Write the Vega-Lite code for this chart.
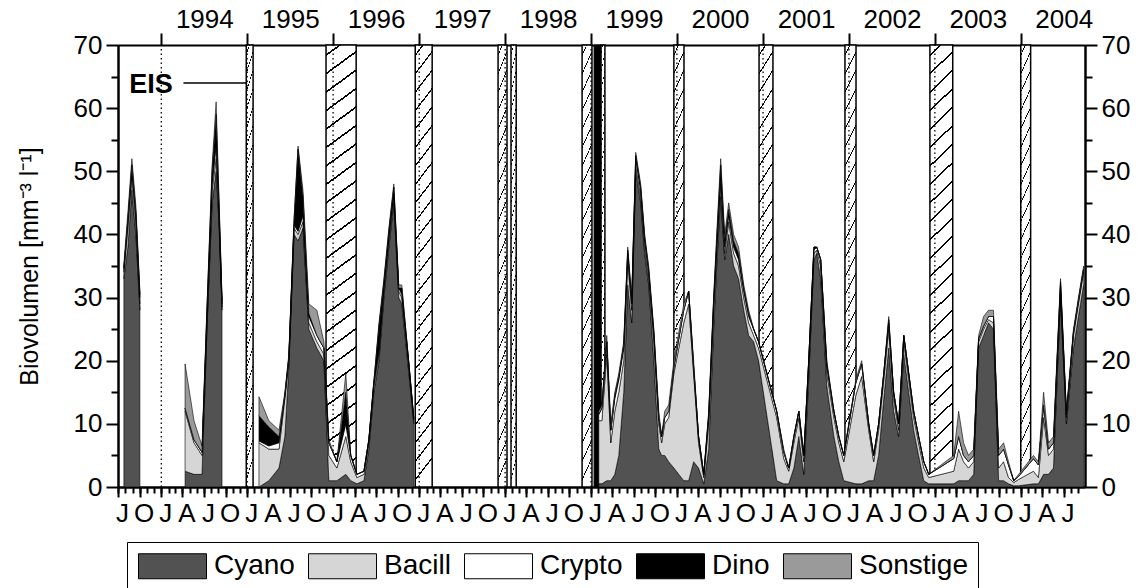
{
  "$schema": "https://vega.github.io/schema/vega-lite/v6.json",
  "width": 967,
  "height": 442,
  "autosize": {"type": "none"},
  "padding": {"left": 118, "top": 45, "right": 57, "bottom": 101},
  "background": "white",
  "config": {
    "view": {"stroke": null},
    "font": "Liberation Sans",
    "axis": {
      "labelFont": "Liberation Sans", "titleFont": "Liberation Sans",
      "labelColor": "black", "titleColor": "black",
      "tickColor": "black", "domainColor": "black",
      "tickWidth": 2, "domainWidth": 2, "grid": false,
      "labelFontSize": 26, "labelOverlap": false, "labelBound": false, "labelFlush": false
    }
  },
  "datasets": {
    "taxa": [
      {"taxon": "Cyano", "ord": 1}, {"taxon": "Bacill", "ord": 2}, {"taxon": "Crypto", "ord": 3},
      {"taxon": "Dino", "ord": 4}, {"taxon": "Sonstige", "ord": 5}
    ],
    "ice": [
      {"s": "1994-12-28", "e": "1995-01-26"},
      {"s": "1995-12-02", "e": "1996-04-08"},
      {"s": "1996-12-15", "e": "1997-02-25"},
      {"s": "1997-12-02", "e": "1998-01-09"},
      {"s": "1998-01-26", "e": "1998-02-17"},
      {"s": "1998-11-24", "e": "1999-01-05"},
      {"s": "1999-02-12", "e": "1999-03-01"},
      {"s": "1999-12-19", "e": "2000-01-31"},
      {"s": "2000-12-15", "e": "2001-02-12"},
      {"s": "2001-12-15", "e": "2002-01-31"},
      {"s": "2002-12-11", "e": "2003-03-18"},
      {"s": "2004-01-01", "e": "2004-02-12"}
    ],
    "iceblack": [
      {"s": "1999-01-14", "e": "1999-02-12"}
    ],
    "years": [
      {"d": "1994-01-01"}, {"d": "1995-01-01"}, {"d": "1996-01-01"}, {"d": "1997-01-01"},
      {"d": "1998-01-01"}, {"d": "1999-01-01"}, {"d": "2000-01-01"}, {"d": "2001-01-01"},
      {"d": "2002-01-01"}, {"d": "2003-01-01"}, {"d": "2004-01-01"}
    ],
    "samples": [
      {"d": "1993-07-26", "seg": 1, "Cyano": 33, "Bacill": 1, "Crypto": 0.5, "Dino": 0.3, "Sonstige": 0.5},
      {"d": "1993-08-12", "seg": 1, "Cyano": 38, "Bacill": 3, "Crypto": 1, "Dino": 0.5, "Sonstige": 1},
      {"d": "1993-08-29", "seg": 1, "Cyano": 47, "Bacill": 2, "Crypto": 1, "Dino": 1, "Sonstige": 1},
      {"d": "1993-09-15", "seg": 1, "Cyano": 40, "Bacill": 2, "Crypto": 1, "Dino": 0.5, "Sonstige": 1},
      {"d": "1993-10-02", "seg": 1, "Cyano": 28, "Bacill": 1, "Crypto": 1, "Dino": 0.5, "Sonstige": 0.5},

      {"d": "1994-04-12", "seg": 2, "Cyano": 2.5, "Bacill": 9.5, "Crypto": 0.5, "Dino": 0, "Sonstige": 7},
      {"d": "1994-05-20", "seg": 2, "Cyano": 2, "Bacill": 5, "Crypto": 0.5, "Dino": 0, "Sonstige": 3},
      {"d": "1994-06-23", "seg": 2, "Cyano": 2, "Bacill": 3, "Crypto": 0.5, "Dino": 0, "Sonstige": 1},
      {"d": "1994-07-14", "seg": 2, "Cyano": 25, "Bacill": 1, "Crypto": 1, "Dino": 1, "Sonstige": 0.5},
      {"d": "1994-08-05", "seg": 2, "Cyano": 45, "Bacill": 2, "Crypto": 1, "Dino": 2, "Sonstige": 1},
      {"d": "1994-08-22", "seg": 2, "Cyano": 50, "Bacill": 2, "Crypto": 2, "Dino": 5, "Sonstige": 2},
      {"d": "1994-09-03", "seg": 2, "Cyano": 42, "Bacill": 1, "Crypto": 1, "Dino": 1, "Sonstige": 1},
      {"d": "1994-09-16", "seg": 2, "Cyano": 28, "Bacill": 0.5, "Crypto": 0.5, "Dino": 0.5, "Sonstige": 0.5},

      {"d": "1995-02-20", "seg": 3, "Cyano": 0, "Bacill": 7, "Crypto": 0.3, "Dino": 4, "Sonstige": 3},
      {"d": "1995-04-03", "seg": 3, "Cyano": 1, "Bacill": 5, "Crypto": 0.5, "Dino": 3, "Sonstige": 1},
      {"d": "1995-05-16", "seg": 3, "Cyano": 3, "Bacill": 3, "Crypto": 1, "Dino": 1, "Sonstige": 1},
      {"d": "1995-06-10", "seg": 3, "Cyano": 8, "Bacill": 6, "Crypto": 0.5, "Dino": 0, "Sonstige": 0.5},
      {"d": "1995-06-27", "seg": 3, "Cyano": 19, "Bacill": 1, "Crypto": 0.5, "Dino": 0, "Sonstige": 0.5},
      {"d": "1995-07-19", "seg": 3, "Cyano": 40, "Bacill": 1, "Crypto": 0.5, "Dino": 0.5, "Sonstige": 0.5},
      {"d": "1995-08-05", "seg": 3, "Cyano": 39, "Bacill": 1, "Crypto": 0.5, "Dino": 13, "Sonstige": 0.5},
      {"d": "1995-08-26", "seg": 3, "Cyano": 41, "Bacill": 1, "Crypto": 1, "Dino": 3, "Sonstige": 1},
      {"d": "1995-09-20", "seg": 3, "Cyano": 25, "Bacill": 1, "Crypto": 1, "Dino": 0.5, "Sonstige": 1.5},
      {"d": "1995-10-24", "seg": 3, "Cyano": 22, "Bacill": 1, "Crypto": 1, "Dino": 0, "Sonstige": 4},
      {"d": "1995-11-23", "seg": 3, "Cyano": 20, "Bacill": 1, "Crypto": 1, "Dino": 0, "Sonstige": 1},
      {"d": "1995-12-14", "seg": 3, "Cyano": 1, "Bacill": 4, "Crypto": 2, "Dino": 0, "Sonstige": 0.5},
      {"d": "1996-01-17", "seg": 3, "Cyano": 1, "Bacill": 2, "Crypto": 1, "Dino": 0, "Sonstige": 0},
      {"d": "1996-02-24", "seg": 3, "Cyano": 2, "Bacill": 6, "Crypto": 2, "Dino": 5, "Sonstige": 3},
      {"d": "1996-03-16", "seg": 3, "Cyano": 1, "Bacill": 3, "Crypto": 1, "Dino": 0, "Sonstige": 0},
      {"d": "1996-04-11", "seg": 3, "Cyano": 0.5, "Bacill": 1, "Crypto": 0.5, "Dino": 0, "Sonstige": 0},
      {"d": "1996-05-11", "seg": 3, "Cyano": 1, "Bacill": 1, "Crypto": 0.5, "Dino": 0, "Sonstige": 0},
      {"d": "1996-06-01", "seg": 3, "Cyano": 6, "Bacill": 1, "Crypto": 0.5, "Dino": 0, "Sonstige": 0},
      {"d": "1996-06-22", "seg": 3, "Cyano": 15, "Bacill": 1, "Crypto": 0.5, "Dino": 0, "Sonstige": 0},
      {"d": "1996-07-14", "seg": 3, "Cyano": 20, "Bacill": 1, "Crypto": 0.5, "Dino": 4, "Sonstige": 0.5},
      {"d": "1996-08-04", "seg": 3, "Cyano": 30, "Bacill": 1, "Crypto": 0.5, "Dino": 1, "Sonstige": 0.5},
      {"d": "1996-08-25", "seg": 3, "Cyano": 38, "Bacill": 1, "Crypto": 0.5, "Dino": 1, "Sonstige": 0.5},
      {"d": "1996-09-15", "seg": 3, "Cyano": 45, "Bacill": 1, "Crypto": 0.5, "Dino": 1, "Sonstige": 0.5},
      {"d": "1996-10-06", "seg": 3, "Cyano": 30, "Bacill": 1, "Crypto": 0.5, "Dino": 0, "Sonstige": 0.5},
      {"d": "1996-10-19", "seg": 3, "Cyano": 29, "Bacill": 1, "Crypto": 0.5, "Dino": 1, "Sonstige": 0.5},
      {"d": "1996-11-18", "seg": 3, "Cyano": 18, "Bacill": 1, "Crypto": 0.5, "Dino": 0, "Sonstige": 0},
      {"d": "1996-12-09", "seg": 3, "Cyano": 10, "Bacill": 0.5, "Crypto": 0.3, "Dino": 0, "Sonstige": 0},

      {"d": "1999-02-03", "seg": 4, "Cyano": 0.5, "Bacill": 10, "Crypto": 1, "Dino": 0, "Sonstige": 0.5},
      {"d": "1999-02-16", "seg": 4, "Cyano": 0.5, "Bacill": 10, "Crypto": 2, "Dino": 0, "Sonstige": 0.5},
      {"d": "1999-03-09", "seg": 4, "Cyano": 1, "Bacill": 20, "Crypto": 2, "Dino": 0, "Sonstige": 1},
      {"d": "1999-03-26", "seg": 4, "Cyano": 1, "Bacill": 6, "Crypto": 2, "Dino": 0, "Sonstige": 1},
      {"d": "1999-04-12", "seg": 4, "Cyano": 2, "Bacill": 10, "Crypto": 2, "Dino": 0.5, "Sonstige": 0.5},
      {"d": "1999-04-29", "seg": 4, "Cyano": 5, "Bacill": 10, "Crypto": 2, "Dino": 0.5, "Sonstige": 0.5},
      {"d": "1999-05-20", "seg": 4, "Cyano": 15, "Bacill": 5, "Crypto": 2, "Dino": 0.5, "Sonstige": 0.5},
      {"d": "1999-06-06", "seg": 4, "Cyano": 32, "Bacill": 4, "Crypto": 1, "Dino": 0.5, "Sonstige": 0.5},
      {"d": "1999-06-23", "seg": 4, "Cyano": 26, "Bacill": 2, "Crypto": 1, "Dino": 0.5, "Sonstige": 0.5},
      {"d": "1999-07-10", "seg": 4, "Cyano": 50, "Bacill": 1, "Crypto": 1, "Dino": 0.5, "Sonstige": 0.5},
      {"d": "1999-07-31", "seg": 4, "Cyano": 45, "Bacill": 1, "Crypto": 1, "Dino": 0.5, "Sonstige": 0.5},
      {"d": "1999-08-17", "seg": 4, "Cyano": 37, "Bacill": 1, "Crypto": 1, "Dino": 0.5, "Sonstige": 0.5},
      {"d": "1999-09-03", "seg": 4, "Cyano": 32, "Bacill": 1, "Crypto": 1, "Dino": 0.5, "Sonstige": 0.5},
      {"d": "1999-09-25", "seg": 4, "Cyano": 20, "Bacill": 3, "Crypto": 1, "Dino": 0.5, "Sonstige": 0.5},
      {"d": "1999-10-16", "seg": 4, "Cyano": 6, "Bacill": 4, "Crypto": 1, "Dino": 0, "Sonstige": 1},
      {"d": "1999-10-28", "seg": 4, "Cyano": 5, "Bacill": 2, "Crypto": 1, "Dino": 0, "Sonstige": 0},
      {"d": "1999-11-10", "seg": 4, "Cyano": 5, "Bacill": 5, "Crypto": 1, "Dino": 0, "Sonstige": 1},
      {"d": "1999-11-27", "seg": 4, "Cyano": 4, "Bacill": 7, "Crypto": 1, "Dino": 0, "Sonstige": 1},
      {"d": "1999-12-19", "seg": 4, "Cyano": 3, "Bacill": 15, "Crypto": 1, "Dino": 0, "Sonstige": 1},
      {"d": "2000-01-30", "seg": 4, "Cyano": 1, "Bacill": 25, "Crypto": 2, "Dino": 0, "Sonstige": 1},
      {"d": "2000-02-20", "seg": 4, "Cyano": 1, "Bacill": 28, "Crypto": 2, "Dino": 0, "Sonstige": 0},
      {"d": "2000-03-12", "seg": 4, "Cyano": 4, "Bacill": 14, "Crypto": 1, "Dino": 0, "Sonstige": 1},
      {"d": "2000-04-02", "seg": 4, "Cyano": 3, "Bacill": 4, "Crypto": 1, "Dino": 0, "Sonstige": 0},
      {"d": "2000-04-24", "seg": 4, "Cyano": 0.5, "Bacill": 1, "Crypto": 0.5, "Dino": 0, "Sonstige": 0},
      {"d": "2000-05-15", "seg": 4, "Cyano": 6, "Bacill": 4, "Crypto": 1, "Dino": 0.5, "Sonstige": 0.5},
      {"d": "2000-06-05", "seg": 4, "Cyano": 25, "Bacill": 3, "Crypto": 1, "Dino": 0.5, "Sonstige": 0.5},
      {"d": "2000-06-18", "seg": 4, "Cyano": 35, "Bacill": 2, "Crypto": 1, "Dino": 1, "Sonstige": 1},
      {"d": "2000-07-05", "seg": 4, "Cyano": 46, "Bacill": 2, "Crypto": 1, "Dino": 2, "Sonstige": 1},
      {"d": "2000-07-22", "seg": 4, "Cyano": 36, "Bacill": 1, "Crypto": 1, "Dino": 1, "Sonstige": 1},
      {"d": "2000-08-08", "seg": 4, "Cyano": 40, "Bacill": 2, "Crypto": 1, "Dino": 1, "Sonstige": 1},
      {"d": "2000-08-29", "seg": 4, "Cyano": 35, "Bacill": 2, "Crypto": 1, "Dino": 1, "Sonstige": 1},
      {"d": "2000-09-19", "seg": 4, "Cyano": 33, "Bacill": 2, "Crypto": 1, "Dino": 1, "Sonstige": 1},
      {"d": "2000-10-11", "seg": 4, "Cyano": 28, "Bacill": 2, "Crypto": 1, "Dino": 0.5, "Sonstige": 0.5},
      {"d": "2000-11-01", "seg": 4, "Cyano": 24, "Bacill": 2, "Crypto": 1, "Dino": 0.5, "Sonstige": 0.5},
      {"d": "2000-11-22", "seg": 4, "Cyano": 23, "Bacill": 1, "Crypto": 1, "Dino": 0, "Sonstige": 0},
      {"d": "2000-12-13", "seg": 4, "Cyano": 20, "Bacill": 2, "Crypto": 1, "Dino": 0, "Sonstige": 0},
      {"d": "2001-02-28", "seg": 4, "Cyano": 1, "Bacill": 10, "Crypto": 1, "Dino": 0, "Sonstige": 0},
      {"d": "2001-03-30", "seg": 4, "Cyano": 0.5, "Bacill": 4, "Crypto": 1, "Dino": 0, "Sonstige": 0.5},
      {"d": "2001-04-20", "seg": 4, "Cyano": 0.5, "Bacill": 2, "Crypto": 0.5, "Dino": 0, "Sonstige": 0},
      {"d": "2001-05-12", "seg": 4, "Cyano": 3, "Bacill": 4, "Crypto": 1, "Dino": 0, "Sonstige": 0},
      {"d": "2001-06-02", "seg": 4, "Cyano": 8, "Bacill": 3, "Crypto": 1, "Dino": 0, "Sonstige": 0},
      {"d": "2001-06-23", "seg": 4, "Cyano": 2, "Bacill": 2, "Crypto": 1, "Dino": 0, "Sonstige": 0},
      {"d": "2001-07-14", "seg": 4, "Cyano": 17, "Bacill": 2, "Crypto": 1, "Dino": 0, "Sonstige": 0},
      {"d": "2001-08-05", "seg": 4, "Cyano": 36, "Bacill": 1, "Crypto": 0.5, "Dino": 0.5, "Sonstige": 0},
      {"d": "2001-08-17", "seg": 4, "Cyano": 37, "Bacill": 0.5, "Crypto": 0.5, "Dino": 0, "Sonstige": 0},
      {"d": "2001-09-03", "seg": 4, "Cyano": 33, "Bacill": 2, "Crypto": 1, "Dino": 0, "Sonstige": 0},
      {"d": "2001-09-29", "seg": 4, "Cyano": 16, "Bacill": 2, "Crypto": 1, "Dino": 0.5, "Sonstige": 0.5},
      {"d": "2001-10-29", "seg": 4, "Cyano": 8, "Bacill": 3, "Crypto": 1, "Dino": 0, "Sonstige": 0},
      {"d": "2001-11-19", "seg": 4, "Cyano": 4, "Bacill": 3, "Crypto": 1, "Dino": 0, "Sonstige": 0},
      {"d": "2001-12-10", "seg": 4, "Cyano": 1, "Bacill": 3, "Crypto": 1, "Dino": 0, "Sonstige": 0},
      {"d": "2002-01-30", "seg": 4, "Cyano": 0.5, "Bacill": 14, "Crypto": 2, "Dino": 0, "Sonstige": 0.5},
      {"d": "2002-02-24", "seg": 4, "Cyano": 0.5, "Bacill": 17, "Crypto": 2, "Dino": 0, "Sonstige": 0.5},
      {"d": "2002-03-26", "seg": 4, "Cyano": 1, "Bacill": 8, "Crypto": 1, "Dino": 0, "Sonstige": 0},
      {"d": "2002-04-16", "seg": 4, "Cyano": 1, "Bacill": 3, "Crypto": 1, "Dino": 0, "Sonstige": 0},
      {"d": "2002-05-07", "seg": 4, "Cyano": 5, "Bacill": 4, "Crypto": 1, "Dino": 0, "Sonstige": 0},
      {"d": "2002-05-29", "seg": 4, "Cyano": 14, "Bacill": 3, "Crypto": 1, "Dino": 0, "Sonstige": 0},
      {"d": "2002-06-19", "seg": 4, "Cyano": 22, "Bacill": 3, "Crypto": 1, "Dino": 0.5, "Sonstige": 0.5},
      {"d": "2002-07-10", "seg": 4, "Cyano": 12, "Bacill": 2, "Crypto": 1, "Dino": 0, "Sonstige": 0},
      {"d": "2002-07-31", "seg": 4, "Cyano": 8, "Bacill": 1, "Crypto": 1, "Dino": 0, "Sonstige": 0},
      {"d": "2002-08-22", "seg": 4, "Cyano": 21, "Bacill": 2, "Crypto": 1, "Dino": 0, "Sonstige": 0},
      {"d": "2002-09-12", "seg": 4, "Cyano": 15, "Bacill": 2, "Crypto": 1, "Dino": 0, "Sonstige": 0},
      {"d": "2002-10-03", "seg": 4, "Cyano": 9, "Bacill": 2, "Crypto": 1, "Dino": 0, "Sonstige": 0},
      {"d": "2002-10-24", "seg": 4, "Cyano": 5, "Bacill": 2, "Crypto": 1, "Dino": 0, "Sonstige": 0},
      {"d": "2002-11-15", "seg": 4, "Cyano": 1, "Bacill": 2, "Crypto": 1, "Dino": 0, "Sonstige": 0},
      {"d": "2002-12-06", "seg": 4, "Cyano": 0.5, "Bacill": 1, "Crypto": 0.5, "Dino": 0, "Sonstige": 0},
      {"d": "2003-03-22", "seg": 4, "Cyano": 0.5, "Bacill": 2, "Crypto": 2, "Dino": 0, "Sonstige": 0.5},
      {"d": "2003-04-12", "seg": 4, "Cyano": 1, "Bacill": 5, "Crypto": 2, "Dino": 0, "Sonstige": 4},
      {"d": "2003-05-03", "seg": 4, "Cyano": 1, "Bacill": 3, "Crypto": 1, "Dino": 0, "Sonstige": 2},
      {"d": "2003-05-24", "seg": 4, "Cyano": 1, "Bacill": 2, "Crypto": 1, "Dino": 0, "Sonstige": 1},
      {"d": "2003-06-15", "seg": 4, "Cyano": 2, "Bacill": 2, "Crypto": 1, "Dino": 0, "Sonstige": 1},
      {"d": "2003-07-06", "seg": 4, "Cyano": 22, "Bacill": 1, "Crypto": 0.5, "Dino": 0, "Sonstige": 0.5},
      {"d": "2003-07-27", "seg": 4, "Cyano": 24, "Bacill": 1, "Crypto": 0.5, "Dino": 0, "Sonstige": 1.5},
      {"d": "2003-08-17", "seg": 4, "Cyano": 26, "Bacill": 0.5, "Crypto": 0.5, "Dino": 0, "Sonstige": 1},
      {"d": "2003-09-07", "seg": 4, "Cyano": 25, "Bacill": 1, "Crypto": 1, "Dino": 0, "Sonstige": 1},
      {"d": "2003-09-29", "seg": 4, "Cyano": 1, "Bacill": 2, "Crypto": 2, "Dino": 0, "Sonstige": 1},
      {"d": "2003-10-20", "seg": 4, "Cyano": 1, "Bacill": 3, "Crypto": 2, "Dino": 0, "Sonstige": 1},
      {"d": "2003-11-10", "seg": 4, "Cyano": 0.5, "Bacill": 1, "Crypto": 2, "Dino": 0, "Sonstige": 0.5},
      {"d": "2003-12-02", "seg": 4, "Cyano": 0.2, "Bacill": 0.5, "Crypto": 0.3, "Dino": 0, "Sonstige": 0},
      {"d": "2003-12-23", "seg": 4, "Cyano": 0.2, "Bacill": 1, "Crypto": 0.5, "Dino": 0, "Sonstige": 0.3},
      {"d": "2004-02-24", "seg": 4, "Cyano": 0.5, "Bacill": 2, "Crypto": 2, "Dino": 0, "Sonstige": 0.5},
      {"d": "2004-03-16", "seg": 4, "Cyano": 0.5, "Bacill": 1, "Crypto": 2, "Dino": 0, "Sonstige": 0.5},
      {"d": "2004-04-07", "seg": 4, "Cyano": 2, "Bacill": 9, "Crypto": 2, "Dino": 0, "Sonstige": 2},
      {"d": "2004-04-28", "seg": 4, "Cyano": 2, "Bacill": 3, "Crypto": 1, "Dino": 0, "Sonstige": 1},
      {"d": "2004-05-19", "seg": 4, "Cyano": 3, "Bacill": 3, "Crypto": 1, "Dino": 0, "Sonstige": 1},
      {"d": "2004-06-18", "seg": 4, "Cyano": 30, "Bacill": 1, "Crypto": 1, "Dino": 0.5, "Sonstige": 0.5},
      {"d": "2004-07-13", "seg": 4, "Cyano": 10, "Bacill": 1, "Crypto": 0.5, "Dino": 0, "Sonstige": 0.5},
      {"d": "2004-08-12", "seg": 4, "Cyano": 22, "Bacill": 2, "Crypto": 0.5, "Dino": 0, "Sonstige": 0.5},
      {"d": "2004-09-02", "seg": 4, "Cyano": 27, "Bacill": 2, "Crypto": 0.5, "Dino": 0, "Sonstige": 0.5},
      {"d": "2004-09-24", "seg": 4, "Cyano": 32, "Bacill": 2, "Crypto": 0.5, "Dino": 0, "Sonstige": 0.5}
    ]
  },
  "layer": [
    {
      "data": {"name": "ice"},
      "mark": {
        "type": "rect", "stroke": "black", "strokeWidth": 1.5,
        "fill": {
          "gradient": "linear", "x1": 0, "y1": 0, "x2": 0.05, "y2": 1,
          "stops": [
            {"offset": 0, "color": "#ffffff"},
            {"offset": 0.0208, "color": "#ffffff"}, {"offset": 0.0208, "color": "#000000"}, {"offset": 0.0253, "color": "#000000"}, {"offset": 0.0253, "color": "#ffffff"},
            {"offset": 0.0625, "color": "#ffffff"}, {"offset": 0.0625, "color": "#000000"}, {"offset": 0.067, "color": "#000000"}, {"offset": 0.067, "color": "#ffffff"},
            {"offset": 0.1042, "color": "#ffffff"}, {"offset": 0.1042, "color": "#000000"}, {"offset": 0.1087, "color": "#000000"}, {"offset": 0.1087, "color": "#ffffff"},
            {"offset": 0.1458, "color": "#ffffff"}, {"offset": 0.1458, "color": "#000000"}, {"offset": 0.1503, "color": "#000000"}, {"offset": 0.1503, "color": "#ffffff"},
            {"offset": 0.1875, "color": "#ffffff"}, {"offset": 0.1875, "color": "#000000"}, {"offset": 0.192, "color": "#000000"}, {"offset": 0.192, "color": "#ffffff"},
            {"offset": 0.2292, "color": "#ffffff"}, {"offset": 0.2292, "color": "#000000"}, {"offset": 0.2337, "color": "#000000"}, {"offset": 0.2337, "color": "#ffffff"},
            {"offset": 0.2708, "color": "#ffffff"}, {"offset": 0.2708, "color": "#000000"}, {"offset": 0.2753, "color": "#000000"}, {"offset": 0.2753, "color": "#ffffff"},
            {"offset": 0.3125, "color": "#ffffff"}, {"offset": 0.3125, "color": "#000000"}, {"offset": 0.317, "color": "#000000"}, {"offset": 0.317, "color": "#ffffff"},
            {"offset": 0.3542, "color": "#ffffff"}, {"offset": 0.3542, "color": "#000000"}, {"offset": 0.3587, "color": "#000000"}, {"offset": 0.3587, "color": "#ffffff"},
            {"offset": 0.3958, "color": "#ffffff"}, {"offset": 0.3958, "color": "#000000"}, {"offset": 0.4003, "color": "#000000"}, {"offset": 0.4003, "color": "#ffffff"},
            {"offset": 0.4375, "color": "#ffffff"}, {"offset": 0.4375, "color": "#000000"}, {"offset": 0.442, "color": "#000000"}, {"offset": 0.442, "color": "#ffffff"},
            {"offset": 0.4792, "color": "#ffffff"}, {"offset": 0.4792, "color": "#000000"}, {"offset": 0.4837, "color": "#000000"}, {"offset": 0.4837, "color": "#ffffff"},
            {"offset": 0.5208, "color": "#ffffff"}, {"offset": 0.5208, "color": "#000000"}, {"offset": 0.5253, "color": "#000000"}, {"offset": 0.5253, "color": "#ffffff"},
            {"offset": 0.5625, "color": "#ffffff"}, {"offset": 0.5625, "color": "#000000"}, {"offset": 0.567, "color": "#000000"}, {"offset": 0.567, "color": "#ffffff"},
            {"offset": 0.6042, "color": "#ffffff"}, {"offset": 0.6042, "color": "#000000"}, {"offset": 0.6087, "color": "#000000"}, {"offset": 0.6087, "color": "#ffffff"},
            {"offset": 0.6458, "color": "#ffffff"}, {"offset": 0.6458, "color": "#000000"}, {"offset": 0.6503, "color": "#000000"}, {"offset": 0.6503, "color": "#ffffff"},
            {"offset": 0.6875, "color": "#ffffff"}, {"offset": 0.6875, "color": "#000000"}, {"offset": 0.692, "color": "#000000"}, {"offset": 0.692, "color": "#ffffff"},
            {"offset": 0.7292, "color": "#ffffff"}, {"offset": 0.7292, "color": "#000000"}, {"offset": 0.7337, "color": "#000000"}, {"offset": 0.7337, "color": "#ffffff"},
            {"offset": 0.7708, "color": "#ffffff"}, {"offset": 0.7708, "color": "#000000"}, {"offset": 0.7753, "color": "#000000"}, {"offset": 0.7753, "color": "#ffffff"},
            {"offset": 0.8125, "color": "#ffffff"}, {"offset": 0.8125, "color": "#000000"}, {"offset": 0.817, "color": "#000000"}, {"offset": 0.817, "color": "#ffffff"},
            {"offset": 0.8542, "color": "#ffffff"}, {"offset": 0.8542, "color": "#000000"}, {"offset": 0.8587, "color": "#000000"}, {"offset": 0.8587, "color": "#ffffff"},
            {"offset": 0.8958, "color": "#ffffff"}, {"offset": 0.8958, "color": "#000000"}, {"offset": 0.9003, "color": "#000000"}, {"offset": 0.9003, "color": "#ffffff"},
            {"offset": 0.9375, "color": "#ffffff"}, {"offset": 0.9375, "color": "#000000"}, {"offset": 0.942, "color": "#000000"}, {"offset": 0.942, "color": "#ffffff"},
            {"offset": 0.9792, "color": "#ffffff"}, {"offset": 0.9792, "color": "#000000"}, {"offset": 0.9837, "color": "#000000"}, {"offset": 0.9837, "color": "#ffffff"},
            {"offset": 1, "color": "#ffffff"}
          ]
        }
      },
      "encoding": {
        "x": {
          "field": "s", "type": "temporal",
          "scale": {"type": "utc", "domain": [{"year": 1993, "month": 7, "date": 1, "utc": true}, {"year": 2004, "month": 9, "date": 30, "utc": true}]},
          "axis": {
            "orient": "bottom", "title": null, "tickCount": {"interval": "month", "step": 3},
            "tickSize": 10, "labelPadding": 3, "labelOffset": 4,
            "labelExpr": "['J','F','M','A','M','J','J','A','S','O','N','D'][utcmonth(datum.value)]"
          }
        },
        "x2": {"field": "e"},
        "y": {
          "datum": 70, "type": "quantitative",
          "scale": {"domain": [0, 70], "nice": false, "zero": false},
          "axis": {
            "orient": "left", "values": [0, 10, 20, 30, 40, 50, 60, 70], "tickSize": 12, "labelPadding": 4,
            "title": "Biovolumen [mm⁻³ l⁻¹]", "titleFontSize": 25, "titleFontWeight": "normal", "titlePadding": 31
          }
        },
        "y2": {"datum": 0}
      }
    },
    {
      "data": {"name": "iceblack"},
      "mark": {"type": "rect", "fill": "black", "stroke": "black", "strokeWidth": 1},
      "encoding": {
        "x": {
          "field": "s", "type": "temporal",
          "scale": {"type": "utc", "domain": [{"year": 1993, "month": 7, "date": 1, "utc": true}, {"year": 2004, "month": 9, "date": 30, "utc": true}]},
          "axis": {"orient": "bottom", "title": null, "tickCount": {"interval": "month", "step": 1}, "tickSize": 6, "labels": false}
        },
        "x2": {"field": "e"},
        "y": {
          "datum": 70, "type": "quantitative",
          "scale": {"domain": [0, 70], "nice": false, "zero": false},
          "axis": {"orient": "left", "values": [5, 15, 25, 35, 45, 55, 65], "tickSize": 7, "labels": false, "title": null}
        },
        "y2": {"datum": 0}
      }
    },
    {
      "data": {"name": "years"},
      "mark": {"type": "rule", "color": "black", "strokeWidth": 1.3, "strokeDash": [1.5, 3]},
      "encoding": {
        "x": {
          "field": "d", "type": "temporal",
          "scale": {"type": "utc", "domain": [{"year": 1993, "month": 7, "date": 1, "utc": true}, {"year": 2004, "month": 9, "date": 30, "utc": true}]},
          "axis": {
            "orient": "top", "title": null, "tickCount": {"interval": "year", "step": 1},
            "tickSize": 12, "labelPadding": 1, "labelOffset": 43, "format": "%Y", "formatType": "utc"
          }
        },
        "y": {
          "datum": 0, "type": "quantitative",
          "scale": {"domain": [0, 70], "nice": false, "zero": false},
          "axis": {"orient": "right", "values": [0, 10, 20, 30, 40, 50, 60, 70], "tickSize": 12, "labelPadding": 4, "title": null}
        },
        "y2": {"datum": 70}
      }
    },
    {
      "data": {"name": "samples"},
      "transform": [
        {"fold": ["Cyano", "Bacill", "Crypto", "Dino", "Sonstige"], "as": ["taxon", "value"]},
        {"lookup": "taxon", "from": {"data": {"name": "taxa"}, "key": "taxon", "fields": ["ord"]}},
        {"stack": "value", "groupby": ["d"], "sort": [{"field": "ord", "order": "ascending"}], "as": ["v0", "v1"]}
      ],
      "mark": {"type": "area", "stroke": "black", "strokeWidth": 0.6, "opacity": 1, "interpolate": "linear"},
      "encoding": {
        "x": {
          "field": "d", "type": "temporal",
          "scale": {"type": "utc", "domain": [{"year": 1993, "month": 7, "date": 1, "utc": true}, {"year": 2004, "month": 9, "date": 30, "utc": true}]},
          "axis": null
        },
        "y": {
          "field": "v1", "type": "quantitative",
          "scale": {"domain": [0, 70], "nice": false, "zero": false},
          "axis": {"orient": "right", "values": [5, 15, 25, 35, 45, 55, 65], "tickSize": 7, "labels": false, "title": null}
        },
        "y2": {"field": "v0"},
        "detail": {"field": "seg", "type": "nominal"},
        "color": {
          "field": "taxon", "type": "nominal",
          "scale": {"domain": ["Cyano", "Bacill", "Crypto", "Dino", "Sonstige"], "range": ["#525252", "#d6d6d6", "#ffffff", "#000000", "#9a9a9a"]},
          "legend": {
            "orient": "none", "legendX": 9, "legendY": 497, "direction": "horizontal", "columns": 5,
            "title": null, "symbolType": "M-1,-1L4.44,-1L4.44,1L-1,1Z", "symbolSize": 625,
            "symbolStrokeColor": "black", "symbolStrokeWidth": 1, "symbolOpacity": 1,
            "labelFont": "Liberation Sans", "labelFontSize": 28, "labelColor": "black", "labelOffset": 49,
            "labelLimit": 0, "columnPadding": 11, "padding": 10, "strokeColor": "black"
          }
        }
      }
    },
    {
      "data": {"values": [{"d": "1993-11-18", "v": 63.7, "t": "EIS"}]},
      "mark": {"type": "text", "fontWeight": "bold", "fontSize": 27, "align": "center", "baseline": "middle", "color": "black", "font": "Liberation Sans"},
      "encoding": {
        "x": {"field": "d", "type": "temporal", "axis": null},
        "y": {"field": "v", "type": "quantitative", "axis": null},
        "text": {"field": "t"}
      }
    },
    {
      "data": {"values": [{"d": "1994-04-05", "d2": "1995-01-01", "v": 64}]},
      "mark": {"type": "rule", "color": "black", "strokeWidth": 1.5},
      "encoding": {
        "x": {"field": "d", "type": "temporal", "axis": null},
        "x2": {"field": "d2"},
        "y": {"field": "v", "type": "quantitative", "axis": null}
      }
    }
  ],
  "resolve": {"axis": {"x": "independent", "y": "independent"}}
}
